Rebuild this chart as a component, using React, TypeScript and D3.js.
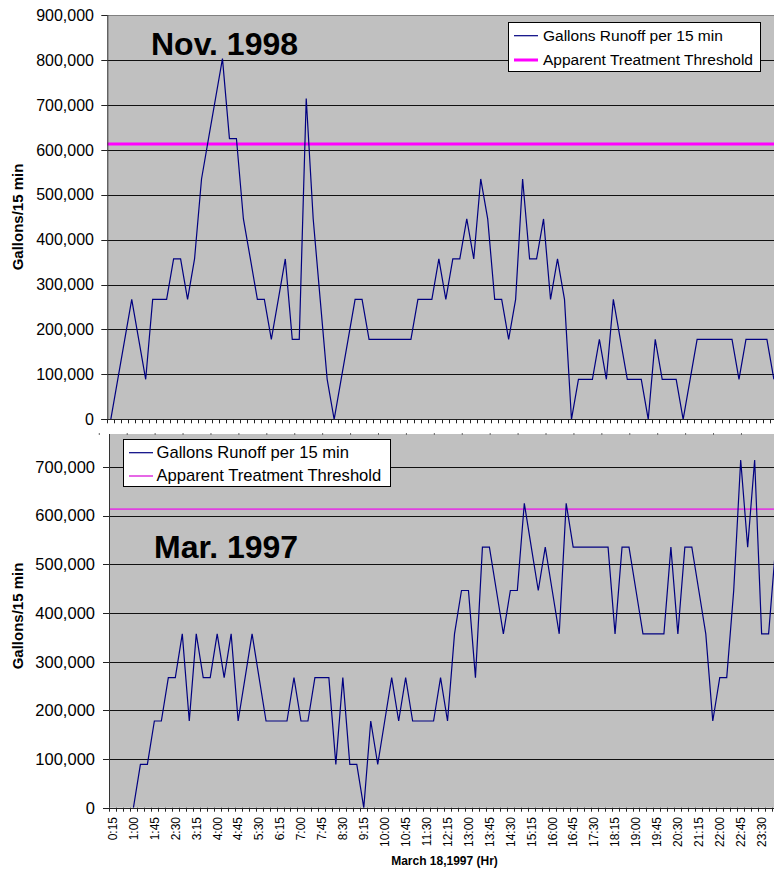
import * as d3 from "d3";

// 15-minute intervals, 0:15 .. 24:00
const TIMES = d3.range(96).map((i) => {
  const m = (i + 1) * 15;
  return `${Math.floor(m / 60)}:${String(m % 60).padStart(2, "0")}`;
});

const TICK_LABELS = [
  "0:15", "1:00", "1:45", "2:30", "3:15", "4:00", "4:45", "5:30", "6:15", "7:00", "7:45",
  "8:30", "9:15", "10:00", "10:45", "11:30", "12:15", "13:00", "13:45", "14:30", "15:15",
  "16:00", "16:45", "17:30", "18:15", "19:00", "19:45", "20:30", "21:15", "22:00", "22:45", "23:30",
];

const NOV_1998 = [
  0, 89000, 178000, 267000, 178000, 89000, 267000, 267000, 267000, 357000, 357000, 267000,
  357000, 535000, 625000, 714000, 803000, 625000, 625000, 446000, 357000, 267000, 267000, 178000,
  267000, 357000, 178000, 178000, 714000, 446000, 267000, 89000, 0, 89000, 178000, 267000,
  267000, 178000, 178000, 178000, 178000, 178000, 178000, 178000, 267000, 267000, 267000, 357000,
  267000, 357000, 357000, 446000, 357000, 535000, 446000, 267000, 267000, 178000, 267000, 535000,
  357000, 357000, 446000, 267000, 357000, 267000, 0, 89000, 89000, 89000, 178000, 89000,
  267000, 178000, 89000, 89000, 89000, 0, 178000, 89000, 89000, 89000, 0, 89000,
  178000, 178000, 178000, 178000, 178000, 178000, 89000, 178000, 178000, 178000, 178000, 89000,
];

// first three intervals have no plotted value
const MAR_1997 = [
  null, null, null, 0, 89000, 89000, 178000, 178000, 267000, 267000, 357000, 178000,
  357000, 267000, 267000, 357000, 267000, 357000, 178000, 267000, 357000, 267000, 178000, 178000,
  178000, 178000, 267000, 178000, 178000, 267000, 267000, 267000, 89000, 267000, 89000, 89000,
  0, 178000, 89000, 178000, 267000, 178000, 267000, 178000, 178000, 178000, 178000, 267000,
  178000, 357000, 446000, 446000, 267000, 535000, 535000, 446000, 357000, 446000, 446000, 625000,
  535000, 446000, 535000, 446000, 357000, 625000, 535000, 535000, 535000, 535000, 535000, 535000,
  357000, 535000, 535000, 446000, 357000, 357000, 357000, 357000, 535000, 357000, 535000, 535000,
  446000, 357000, 178000, 267000, 267000, 446000, 714000, 535000, 714000, 357000, 357000, 535000,
];

const THRESHOLD = 613000;
const SERIES_NAME = "Gallons Runoff per 15 min";
const THRESHOLD_NAME = "Apparent Treatment Threshold";

const FONT = "'Liberation Sans', Arial, Helvetica, sans-serif";
const STEP = 6.98;
const NAVY = "#000080";

interface PanelCfg {
  left: number;
  top: number;
  zero: number;
  yMax: number;
  ticks: number[];
  tickFont: number;
  labelRight: number;
  threshColor: string;
  threshWidth: number;
  title: string;
  titleX: number;
  titleY: number;
  yTitleX: number;
  yTitleY: number;
  legend: { x: number; y: number; w: number; h: number; font: number; textX: number; rows: [number, number] };
}

function Panel({ values, cfg, children }: { values: (number | null)[]; cfg: PanelCfg; children?: any }) {
  const x = d3
    .scaleBand<number>()
    .domain(d3.range(values.length))
    .range([cfg.left, cfg.left + STEP * values.length]);
  const y = d3.scaleLinear().domain([0, cfg.yMax]).range([cfg.zero, cfg.top]);
  const cx = (i: number) => (x(i) ?? 0) + x.bandwidth() / 2;
  const line = d3
    .line<number | null>()
    .defined((d) => d !== null)
    .x((_, i) => cx(i))
    .y((d) => y(d as number));
  const right = cfg.left + STEP * values.length;
  const lg = cfg.legend;

  return (
    <g>
      <rect x={cfg.left} y={cfg.top} width={right - cfg.left} height={cfg.zero - cfg.top} fill="#c0c0c0" />
      <line x1={cfg.left} x2={right} y1={cfg.top + 0.5} y2={cfg.top + 0.5} stroke="#808080" />
      {cfg.ticks.filter((t) => t > 0 && t < cfg.yMax).map((t) => (
        <line key={t} x1={cfg.left} x2={right} y1={Math.round(y(t)) + 0.5} y2={Math.round(y(t)) + 0.5} stroke="#111" />
      ))}
      <line x1={cfg.left} x2={right} y1={y(THRESHOLD)} y2={y(THRESHOLD)} stroke={cfg.threshColor} strokeWidth={cfg.threshWidth} />
      <path d={line(values) ?? ""} fill="none" stroke={NAVY} strokeWidth={1.2} strokeLinejoin="miter" />

      {/* axes */}
      <line x1={cfg.left + 0.5} x2={cfg.left + 0.5} y1={cfg.top} y2={cfg.zero} stroke="#333" />
      <line x1={cfg.left - 6} x2={right} y1={Math.round(cfg.zero) + 0.5} y2={Math.round(cfg.zero) + 0.5} stroke="#222" />
      {d3.range(values.length + 1).map((i) => {
        const xx = Math.round(cfg.left + i * x.bandwidth()) + 0.5;
        return <line key={i} x1={xx} x2={xx} y1={cfg.zero} y2={cfg.zero + 4} stroke="#222" />;
      })}
      {cfg.ticks.map((t) => (
        <g key={t}>
          <line x1={cfg.left - 6} x2={cfg.left} y1={Math.round(y(t)) + 0.5} y2={Math.round(y(t)) + 0.5} stroke="#222" />
          <text x={cfg.labelRight} y={y(t)} dy="0.36em" textAnchor="end" fontSize={cfg.tickFont} fontFamily={FONT} fill="#000">
            {d3.format(",")(t)}
          </text>
        </g>
      ))}

      <text
        transform={`translate(${cfg.yTitleX},${cfg.yTitleY}) rotate(-90)`}
        textAnchor="middle"
        dy="0.36em"
        fontSize={15}
        fontWeight="bold"
        fontFamily={FONT}
      >
        Gallons/15 min
      </text>
      <text x={cfg.titleX} y={cfg.titleY} fontSize={32} fontWeight="bold" fontFamily={FONT}>
        {cfg.title}
      </text>

      {/* legend */}
      <rect x={lg.x + 0.5} y={lg.y + 0.5} width={lg.w} height={lg.h} fill="#fff" stroke="#000" />
      <line x1={lg.x + 6} x2={lg.x + 30} y1={lg.rows[0] - 5} y2={lg.rows[0] - 5} stroke={NAVY} strokeWidth={1.2} />
      <line x1={lg.x + 6} x2={lg.x + 30} y1={lg.rows[1] - 5} y2={lg.rows[1] - 5} stroke={cfg.threshColor} strokeWidth={cfg.threshWidth} />
      <text x={lg.textX} y={lg.rows[0]} fontSize={lg.font} fontFamily={FONT}>{SERIES_NAME}</text>
      <text x={lg.textX} y={lg.rows[1]} fontSize={lg.font} fontFamily={FONT}>{THRESHOLD_NAME}</text>

      {children && children(cx)}
    </g>
  );
}

const TOP: PanelCfg = {
  left: 107.3, top: 15, zero: 419.3, yMax: 900000,
  ticks: d3.range(0, 900001, 100000), tickFont: 16, labelRight: 94,
  threshColor: "#ff00ff", threshWidth: 3,
  title: "Nov. 1998", titleX: 151, titleY: 55,
  yTitleX: 18, yTitleY: 217,
  legend: { x: 508, y: 22, w: 252, h: 49, font: 15.5, textX: 543, rows: [40.7, 65] },
};

const BOTTOM: PanelCfg = {
  left: 109, top: 418.1, zero: 807.7, yMax: 800000,
  ticks: d3.range(0, 700001, 100000), tickFont: 16.5, labelRight: 95,
  threshColor: "#e040e0", threshWidth: 1.6,
  title: "Mar. 1997", titleX: 154, titleY: 558,
  yTitleX: 18, yTitleY: 616,
  legend: { x: 123, y: 439, w: 267, h: 47, font: 16.6, textX: 156.5, rows: [457.7, 481] },
};

export default function App() {
  return (
    <svg width={774} height={869} style={{ position: "absolute", left: 0, top: 0, background: "#fff" }}>
      <rect width={774} height={869} fill="#fff" />
      <Panel values={MAR_1997} cfg={BOTTOM}>
        {(cx: (i: number) => number) =>
          TICK_LABELS.map((lab) => {
            const i = TIMES.indexOf(lab);
            return (
              <text
                key={lab}
                transform={`translate(${cx(i)},817) rotate(-90)`}
                textAnchor="end"
                dy="0.36em"
                fontSize={12}
                fontFamily={FONT}
              >
                {lab}
              </text>
            );
          })
        }
      </Panel>
      <text x={444.5} y={865} textAnchor="middle" fontSize={12} fontWeight="bold" fontFamily={FONT}>
        March 18,1997 (Hr)
      </text>

      {/* upper chart sits on top of the lower one */}
      <rect x={0} y={0} width={774} height={434} fill="#fff" />
      <Panel values={NOV_1998} cfg={TOP}>
        {(cx: (i: number) => number) =>
          d3.range(0, 96, 4).map((i) => (
            <rect key={i} x={cx(i) - 12} y={433} width={1} height={2} fill="#666" />
          ))
        }
      </Panel>
    </svg>
  );
}
